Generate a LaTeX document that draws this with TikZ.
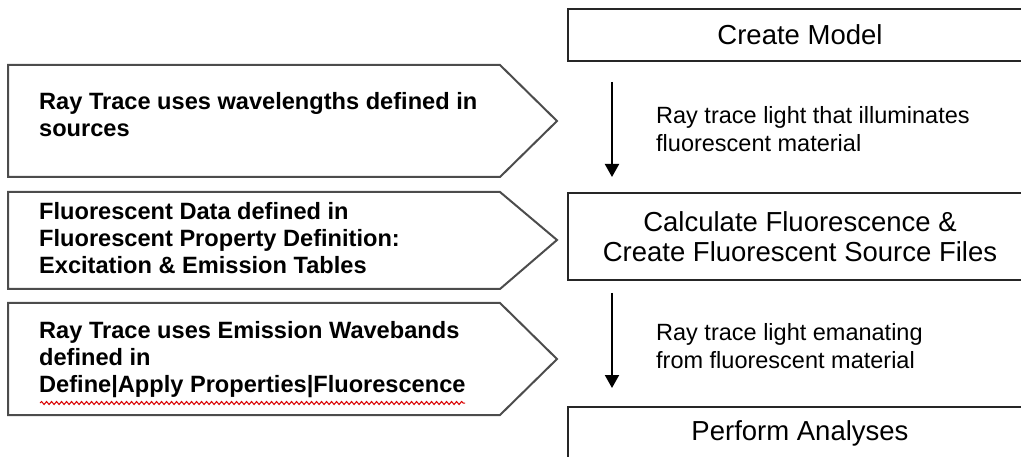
\documentclass[tikz,border=0pt]{standalone}
\usepackage{fontspec}
\setmainfont{Liberation Sans}
\usetikzlibrary{arrows.meta, positioning, decorations.pathmorphing}

\begin{document}
\begin{tikzpicture}[x=1pt, y=-1pt,
  chevron/.style={draw=black!70, line width=2pt, line join=miter},
  stagebox/.style={draw=black!85, line width=2pt, minimum width=464pt, align=center, inner sep=0pt, font=\fontsize{27.5}{30.5}\selectfont},
  srctext/.style={anchor=west, align=left, inner sep=0pt, font=\fontsize{23.6}{27}\selectfont\bfseries},
  steptext/.style={anchor=west, align=left, inner sep=0pt, font=\fontsize{23.5}{28}\selectfont},
  arr/.style={-{Triangle[width=14pt,length=13pt]}, line width=2pt},
  spell/.style={draw=red!85!black, line width=1pt, decorate, decoration={snake, amplitude=1.5pt, segment length=5pt}}
]
\useasboundingbox (0,0) rectangle (1021,457);
\clip (0,0) rectangle (1021,457);

% Source chevrons (left)
\draw[chevron] (8,65) -- (500,65) -- (557,121) -- (500,177) -- (8,177) -- cycle;
\draw[chevron] (8,192) -- (500,192) -- (557,240) -- (500,289) -- (8,289) -- cycle;
\draw[chevron] (8,303) -- (500,303) -- (557,359) -- (500,415) -- (8,415) -- cycle;

\node[srctext] (src1) at (39,115) {Ray Trace uses wavelengths defined in\\sources};
\node[srctext] (src2) at (39,238) {Fluorescent Data defined in\\Fluorescent Property Definition:\\Excitation \& Emission Tables};
\node[srctext] (src3) at (39,360) {Ray Trace uses Emission Wavebands\\defined in\\Define|Apply Properties|Fluorescence};
\draw[spell] (40,403) -- (465,403);

% Process steps (right)
\node[stagebox, minimum height=52pt] (create) at (800,35) {Create Model};
\node[stagebox, minimum height=87pt] (calc) at (800,236.5) {Calculate Fluorescence \&\\Create Fluorescent Source Files};
\node[stagebox, minimum height=52pt] (perform) at (800,433) {Perform Analyses};

% Ray trace arrows
\coordinate (ax) at (612,0);
\draw[arr, shorten <=20pt, shorten >=15pt] (create.south -| ax) -- (calc.north -| ax);
\draw[arr, shorten <=12pt, shorten >=18pt] (calc.south -| ax) -- (perform.north -| ax);

\node[steptext] (lbl1) at (656,129) {Ray trace light that illuminates\\fluorescent material};
\node[steptext] (lbl2) at (656,346) {Ray trace light emanating\\from fluorescent material};

\end{tikzpicture}
\end{document}
